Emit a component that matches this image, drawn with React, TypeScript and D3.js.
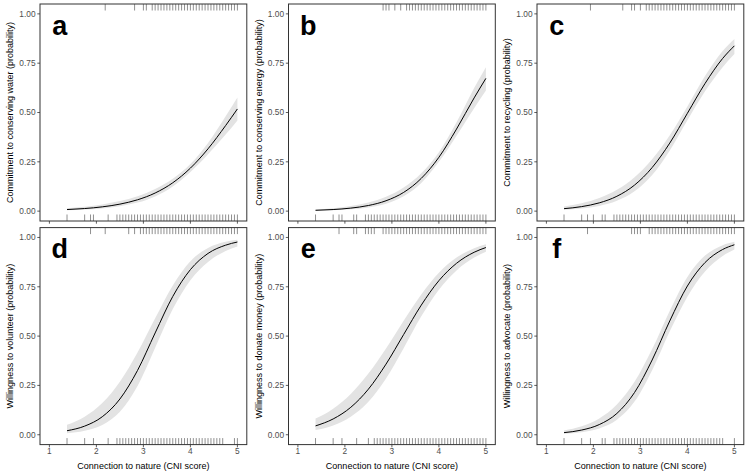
import React from 'react';
import * as d3 from 'd3';

const cniX = [1.375, 1.75, 2.125, 2.5, 2.875, 3.25, 3.625, 4, 4.375, 4.75, 5];

// possible CNI score levels (1/16 steps) used by the rugs
const cniLevels = [
  2.4375, 2.5, 2.5625, 2.625, 2.6875, 2.75, 2.8125, 2.875, 2.9375, 3, 3.0625, 3.125, 3.1875,
  3.25, 3.3125, 3.375, 3.4375, 3.5, 3.5625, 3.625, 3.6875, 3.75, 3.8125, 3.875, 3.9375, 4,
  4.0625, 4.125, 4.1875, 4.25, 4.3125, 4.375, 4.4375, 4.5, 4.5625, 4.625, 4.6875, 4.75,
  4.8125, 4.875, 4.9375, 5,
];
const from = (v: number) => cniLevels.filter((d) => d >= v);
const between = (a: number, b: number) => cniLevels.filter((d) => d >= a && d <= b);

const xTicks = [1, 2, 3, 4, 5];
const yTicks = [0, 0.25, 0.5, 0.75, 1];

const panelLetters = ['a', 'b', 'c', 'd', 'e', 'f'];
const yTitles = [
  'Commitment to conserving water (probability)',
  'Commitment to conserving energy (probability)',
  'Commitment to recycling (probability)',
  'Willingness to volunteer (probability)',
  'Willingness to donate money (probability)',
  'Willingness to advocate (probability)',
];

const fitA = [0.008, 0.0132, 0.0217, 0.0355, 0.0575, 0.0919, 0.1438, 0.218, 0.316, 0.434, 0.518];
const loA = [0.0043, 0.0077, 0.0138, 0.0246, 0.0433, 0.0748, 0.125, 0.198, 0.288, 0.388, 0.46];
const hiA = [0.0148, 0.0224, 0.0339, 0.0509, 0.076, 0.1125, 0.1647, 0.239, 0.346, 0.481, 0.576];

const fitB = [0.0043, 0.0081, 0.0153, 0.0285, 0.0526, 0.095, 0.166, 0.273, 0.416, 0.574, 0.673];
const loB = [0.0021, 0.0043, 0.009, 0.0186, 0.0378, 0.0753, 0.143, 0.25, 0.382, 0.522, 0.612];
const hiB = [0.0089, 0.0152, 0.0258, 0.0436, 0.0728, 0.1194, 0.1916, 0.298, 0.45, 0.624, 0.729];

const fitC = [0.0125, 0.0229, 0.0419, 0.0754, 0.132, 0.221, 0.345, 0.496, 0.647, 0.774, 0.838];
const loC = [0.0065, 0.0131, 0.0264, 0.0522, 0.1003, 0.183, 0.308, 0.461, 0.608, 0.73, 0.796];
const hiC = [0.0238, 0.0399, 0.066, 0.108, 0.172, 0.263, 0.385, 0.531, 0.685, 0.812, 0.873];

const fitD = [0.0203, 0.0437, 0.0912, 0.181, 0.326, 0.516, 0.701, 0.837, 0.919, 0.961, 0.977];
const loD = [0.008, 0.0202, 0.0499, 0.117, 0.247, 0.441, 0.637, 0.783, 0.876, 0.932, 0.954];
const hiD = [0.0507, 0.0918, 0.161, 0.269, 0.417, 0.59, 0.757, 0.88, 0.947, 0.978, 0.988];

const fitE = [0.0448, 0.08, 0.139, 0.231, 0.358, 0.508, 0.657, 0.781, 0.869, 0.925, 0.949];
const loE = [0.024, 0.0474, 0.0911, 0.167, 0.285, 0.439, 0.6, 0.735, 0.833, 0.898, 0.927];
const hiE = [0.0818, 0.132, 0.207, 0.31, 0.437, 0.578, 0.711, 0.821, 0.898, 0.945, 0.965];

const fitF = [0.0107, 0.0237, 0.0515, 0.108, 0.214, 0.379, 0.577, 0.754, 0.873, 0.939, 0.963];
const loF = [0.0052, 0.0129, 0.0318, 0.0758, 0.168, 0.327, 0.524, 0.7, 0.827, 0.906, 0.939];
const hiF = [0.0221, 0.0431, 0.0824, 0.153, 0.268, 0.434, 0.629, 0.8, 0.908, 0.961, 0.978];

// rugs: respondents with outcome 0 (bottom) and 1 (top)
const rug0A = [1.375, 1.75, 1.875, 1.9375, 2.25, ...from(2.4375)];
const rug1A = [2.1875, 2.8125, 3, 3.0625, ...from(3.1875)];
const rug0B = [1.375, 1.75, 1.875, 1.9375, 2.1875, 2.25, ...from(2.4375)];
const rug1B = [2.8125, 2.875, 2.9375, 3.0625, 3.1875, ...from(3.3125)];
const rug0C = [1.375, 1.75, 1.875, 2, 2.1875, 2.25, ...from(2.4375)];
const rug1C = [1.9375, 2.625, 2.8125, 2.875, 3, ...from(3.125)];
const rug0D = [1.375, 1.75, 1.9375, 2.25, ...between(2.4375, 4.6875), 4.9375, 5];
const rug1D = [1.875, 2.1875, 2.6875, 2.8125, ...from(2.9375)];
const rug0E = [1.375, 1.75, 1.9375, 2.25, 2.5, ...from(2.625)];
const rug1E = [1.875, 2.1875, 2.25, 2.4375, 2.5, 2.5625, 2.625, ...from(2.8125)];
const rug0F = [1.375, 1.75, 1.9375, 2.1875, 2.25, ...between(2.4375, 4.75), 5];
const rug1F = [1.875, 2.8125, 2.875, 2.9375, 3, ...from(3.1875)];

const fits = [fitA, fitB, fitC, fitD, fitE, fitF];
const los = [loA, loB, loC, loD, loE, loF];
const his = [hiA, hiB, hiC, hiD, hiE, hiF];
const rugs0 = [rug0A, rug0B, rug0C, rug0D, rug0E, rug0F];
const rugs1 = [rug1A, rug1B, rug1C, rug1D, rug1E, rug1F];

const W = 749;
const H = 475;
const font = '"Liberation Sans", Arial, Helvetica, sans-serif';
const colX = [0, 248.5, 497];
const rowY = [4, 227.6];
const panelW = 206.8;
const panelH = 217;
const leftM = 40;

function Panel({ i }: { i: number }) {
  const col = i % 3;
  const row = Math.floor(i / 3);
  const x0 = colX[col] + leftM;
  const y0 = rowY[row];
  const x = d3.scaleLinear().domain([0.8, 5.2]).range([x0, x0 + panelW]);
  const y = d3.scaleLinear().domain([-0.05, 1.05]).range([y0 + panelH, y0]);
  const pts = cniX.map((v, k) => ({ x: v, fit: fits[i][k], lo: los[i][k], hi: his[i][k] }));
  const area = d3
    .area<any>()
    .x((d) => x(d.x))
    .y0((d) => y(d.lo))
    .y1((d) => y(d.hi))
    .curve(d3.curveMonotoneX);
  const line = d3
    .line<any>()
    .x((d) => x(d.x))
    .y((d) => y(d.fit))
    .curve(d3.curveMonotoneX);
  const rugLen = panelH * 0.03;
  const axisCol = '#333333';
  const tickCol = '#4d4d4d';
  return (
    <g>
      <path d={area(pts) || ''} fill="#e3e3e3" />
      <path d={line(pts) || ''} fill="none" stroke="#000" strokeWidth={1} />
      {rugs0[i].map((v, k) => (
        <line key={'r0' + k} x1={x(v)} x2={x(v)} y1={y0 + panelH} y2={y0 + panelH - rugLen} stroke="#444" strokeWidth={0.6} />
      ))}
      {rugs1[i].map((v, k) => (
        <line key={'r1' + k} x1={x(v)} x2={x(v)} y1={y0} y2={y0 + rugLen} stroke="#444" strokeWidth={0.6} />
      ))}
      <rect x={x0} y={y0} width={panelW} height={panelH} fill="none" stroke={axisCol} strokeWidth={1} />
      {yTicks.map((t) => (
        <g key={'y' + t}>
          <line x1={x0 - 2.7} x2={x0} y1={y(t)} y2={y(t)} stroke={axisCol} strokeWidth={0.8} />
          <text x={x0 - 4.5} y={y(t)} dy="0.35em" textAnchor="end" fontSize={8.3} fill={tickCol} fontFamily={font}>
            {d3.format('.2f')(t)}
          </text>
        </g>
      ))}
      {xTicks.map((t) => (
        <g key={'x' + t}>
          <line x1={x(t)} x2={x(t)} y1={y0 + panelH} y2={y0 + panelH + 2.7} stroke={axisCol} strokeWidth={0.8} />
          {row === 1 && (
            <text x={x(t)} y={y0 + panelH + 9.6} textAnchor="middle" fontSize={8.3} fill={tickCol} fontFamily={font}>
              {t}
            </text>
          )}
        </g>
      ))}
      {row === 1 && (
        <text x={x0 + panelW / 2} y={y0 + panelH + 24.6} textAnchor="middle" fontSize={9} fill="#000" fontFamily={font}>
          Connection to nature (CNI score)
        </text>
      )}
      <text
        transform={`translate(${colX[col] + 10},${y0 + panelH / 2}) rotate(-90)`}
        dy="0.35em"
        textAnchor="middle"
        fontSize={9}
        fill="#000"
        fontFamily={font}
      >
        {yTitles[i]}
      </text>
      <text x={x(1.22)} y={y0 + 30.5} textAnchor="middle" fontSize={27} fontWeight="bold" fill="#000" fontFamily={font}>
        {panelLetters[i]}
      </text>
    </g>
  );
}

export default function App() {
  return (
    <div style={{ position: 'absolute', left: 0, top: 0 }}>
      <svg width={W} height={H} style={{ display: 'block', background: '#fff' }}>
        {panelLetters.map((_, i) => (
          <Panel key={i} i={i} />
        ))}
      </svg>
    </div>
  );
}
